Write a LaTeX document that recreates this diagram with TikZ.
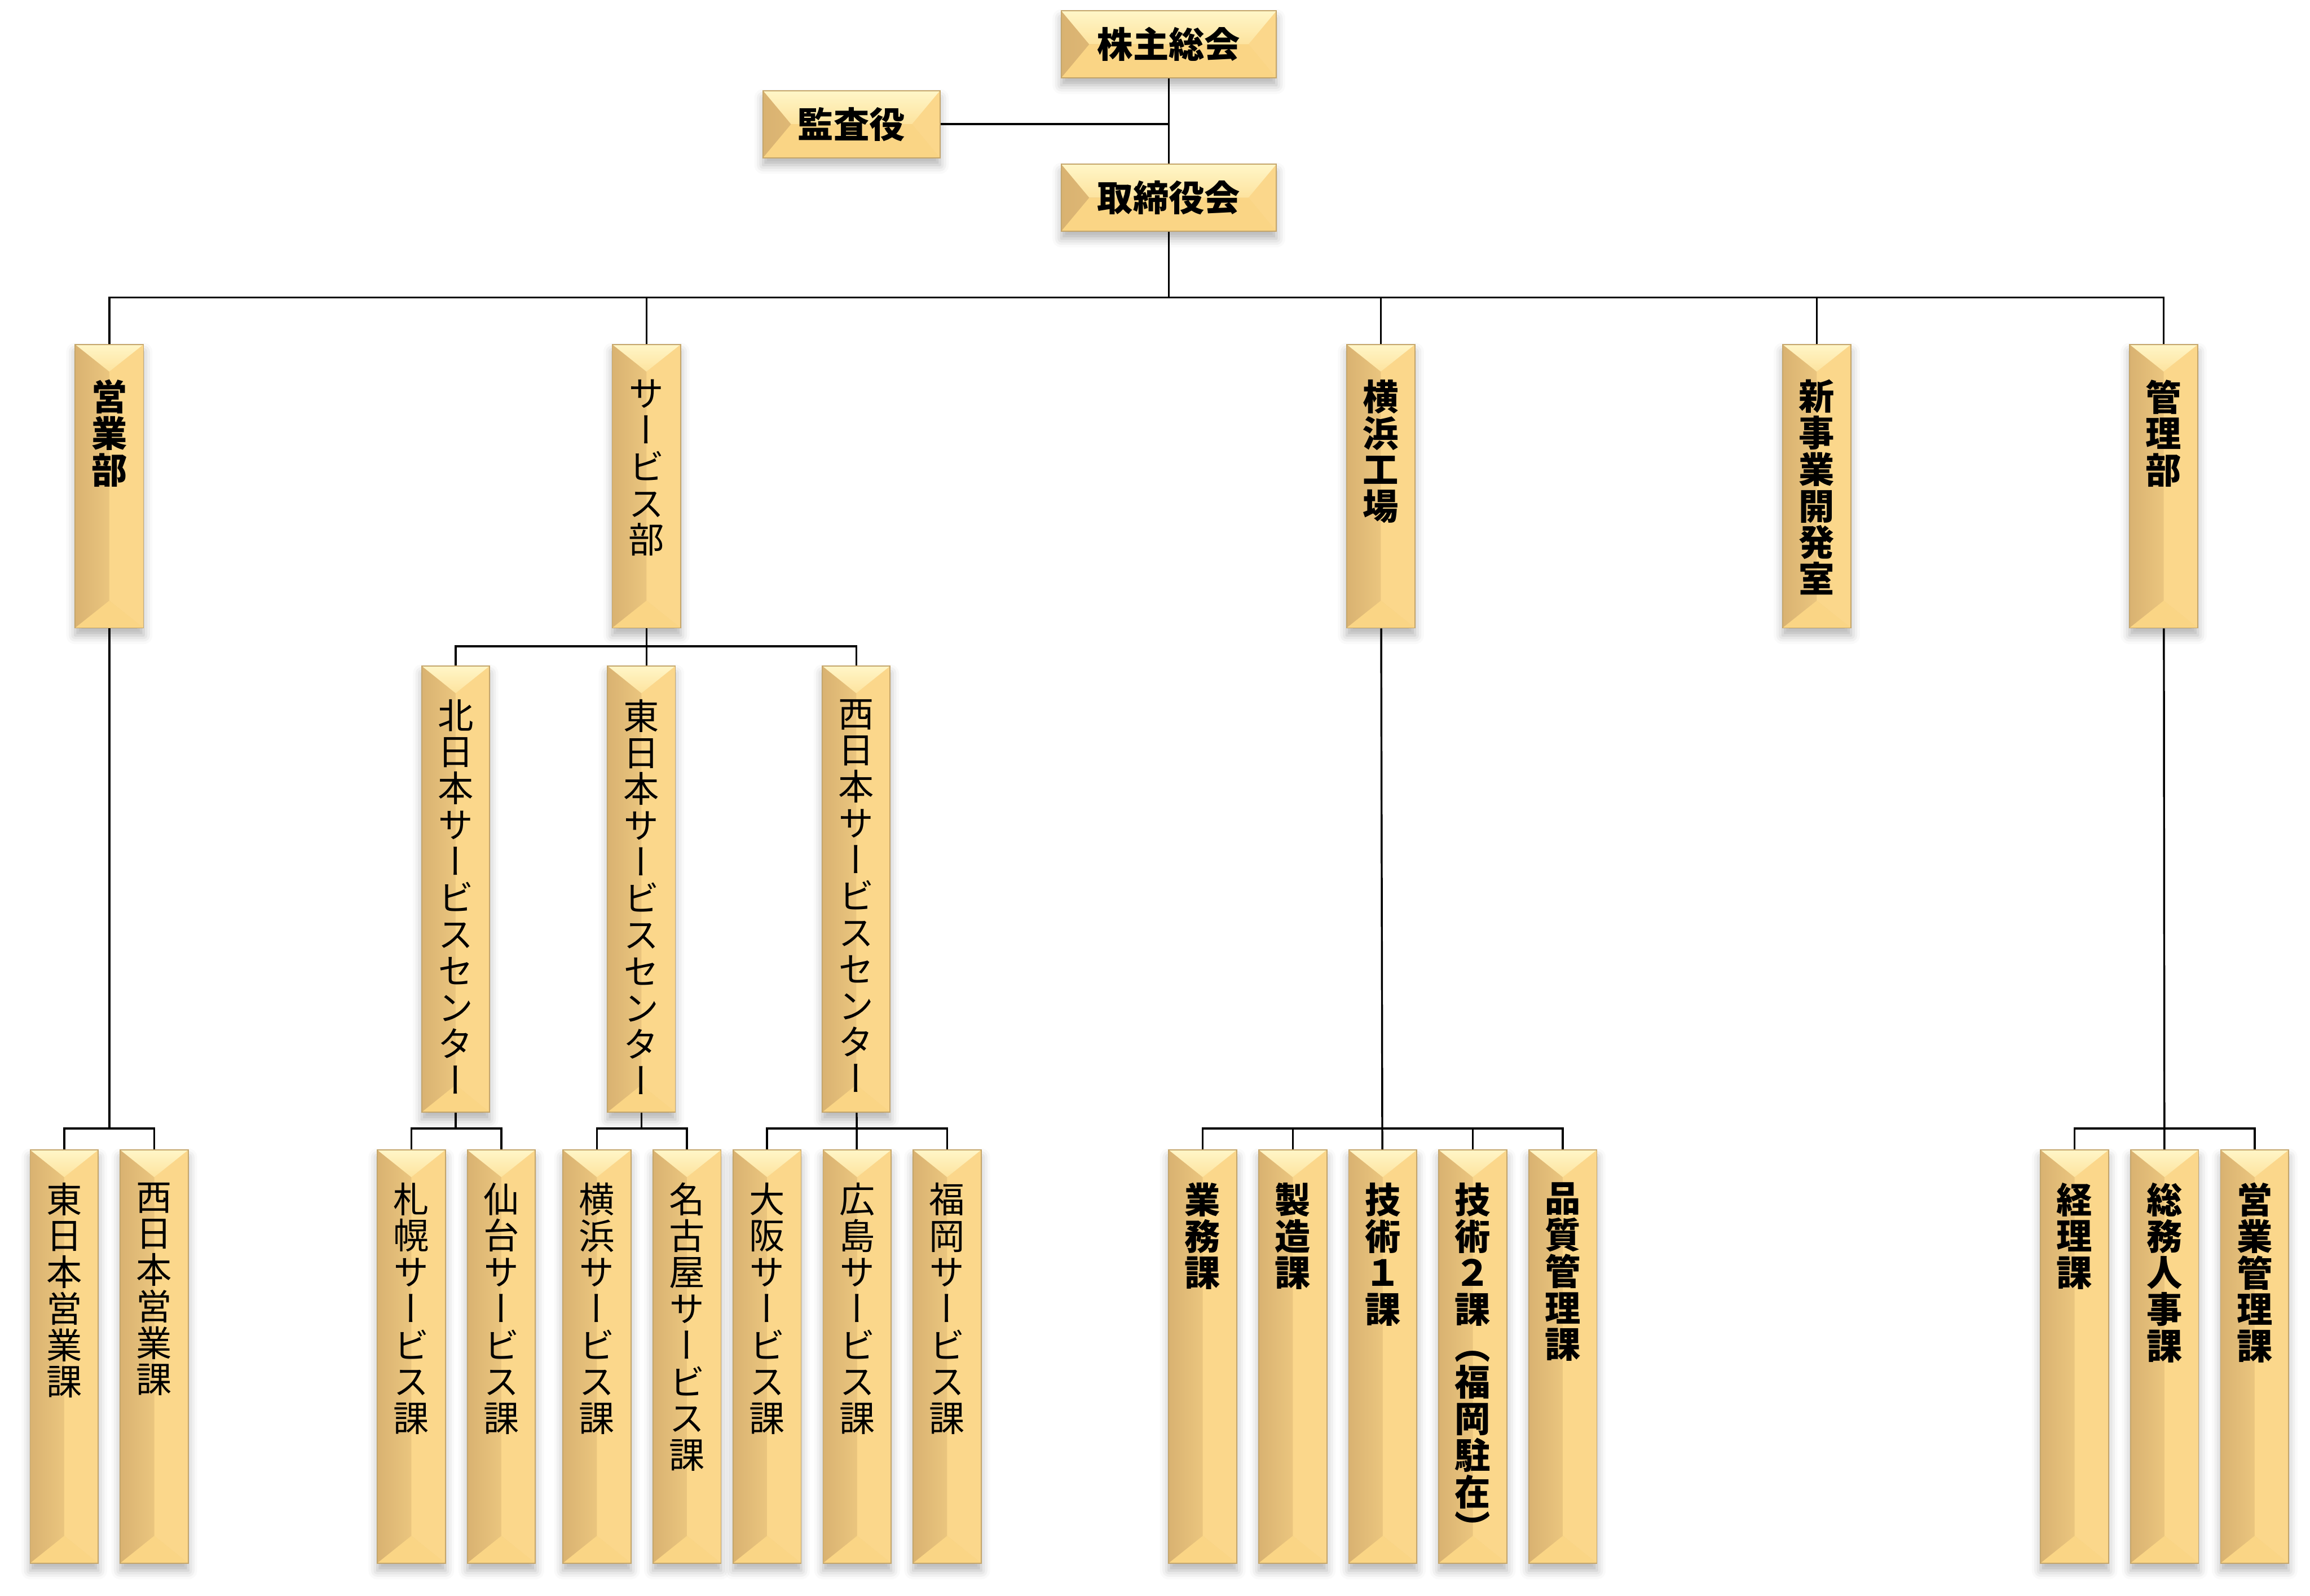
\documentclass[tikz,border=0pt]{standalone}
\usepackage{fontspec}
\newfontfamily\jp{Noto Sans CJK JP}[RawFeature={+vert}]
\usetikzlibrary{positioning, calc, shadows.blur}

\definecolor{goldL}{HTML}{D9B271}
\definecolor{goldR}{HTML}{FCD98C}
\definecolor{goldHalf}{HTML}{FBD78B}
\definecolor{bevTop}{HTML}{FFF6C8}
\definecolor{bevTopIn}{HTML}{FDE39E}
\definecolor{bevBot}{HTML}{FAD585}
\definecolor{goldEdge}{HTML}{C5A66B}

\newcommand{\jpsize}{\jp\fontsize{13.8pt}{14.1pt}\selectfont}
\newcommand{\tate}[2]{\parbox[c][#1][t]{1.2em}{\centering #2}}

\tikzset{bevel x/.store in=\bevx, bevel y/.store in=\bevy,
         bevel x=3.8mm, bevel y=3.8mm}

\begin{document}
\begin{tikzpicture}[
    x=0.2mm, y=-0.2mm,
    line width=0.75pt,
    orgbox/.style={draw=goldEdge, line width=0.4pt, left color=goldL,
                   right color=goldR, inner xsep=0pt, font=\jpsize,
                   blur shadow={shadow xshift=0mm, shadow yshift=-1mm,
                                shadow blur radius=1.2mm, shadow opacity=30},
                   path picture={
                     \coordinate (pnw) at (path picture bounding box.north west);
                     \coordinate (pne) at (path picture bounding box.north east);
                     \coordinate (psw) at (path picture bounding box.south west);
                     \coordinate (pse) at (path picture bounding box.south east);
                     \fill[goldHalf] (pne) -- ([xshift=-\bevx, yshift=-\bevy]pne)
                       -- ([xshift=-\bevx, yshift=\bevy]pse) -- (pse) -- cycle;
                     \shade[top color=bevTop, bottom color=bevTopIn] (pnw) -- (pne)
                       -- ([xshift=-\bevx, yshift=-\bevy]pne)
                       -- ([xshift=\bevx, yshift=-\bevy]pnw) -- cycle;
                     \fill[bevBot] (psw) -- (pse)
                       -- ([xshift=-\bevx, yshift=\bevy]pse)
                       -- ([xshift=\bevx, yshift=\bevy]psw) -- cycle;
                   }},
    flat/.style={orgbox, minimum width=29.2mm, minimum height=9.1mm,
                 inner ysep=0pt, bevel x=3.8mm, bevel y=4.55mm},
    dept/.style={orgbox, minimum width=9.3mm, inner ysep=4.8mm,
                 bevel x=4.65mm, bevel y=3.7mm},
    center/.style={orgbox, minimum width=9.2mm, inner ysep=4.54mm,
                   bevel x=4.6mm, bevel y=3.7mm},
    unit/.style={orgbox, minimum width=9.24mm, inner ysep=4.45mm,
                 bevel x=4.62mm, bevel y=3.7mm},
    bold/.style={font=\jpsize\bfseries}
  ]
  \useasboundingbox (0,0) rectangle (1568,1083);

  % top
  \node[flat, bold] (kabu) at (793.4,30.1) {株主総会};
  \node[flat, bold, minimum width=24mm] (kansa) at (578,84.3) {監査役};
  \node[flat, bold] (tori) at (793.4,134.2) {取締役会};

  % departments
  \node[dept, bold] (eigyo) at (74.2,330) {\tate{28.9mm}{営\\業\\部}};
  \node[dept] (svc) at (438.8,330) {\tate{28.9mm}{サ\\ー\\ビ\\ス\\部}};
  \node[dept, bold] (yfac) at (937.3,330) {\tate{28.9mm}{横\\浜\\工\\場}};
  \node[dept, bold] (newbiz) at (1233.2,330) {\tate{28.9mm}{新\\事\\業\\開\\発\\室}};
  \node[dept, bold] (kanri) at (1468.7,330) {\tate{28.9mm}{管\\理\\部}};

  % service centers
  \node[center] (north3) at (309.3,603.5)
    {\tate{51.5mm}{北\\日\\本\\サ\\ー\\ビ\\ス\\セ\\ン\\タ\\ー}};
  \node[center] (east3) at (435.4,603.5)
    {\tate{51.5mm}{東\\日\\本\\サ\\ー\\ビ\\ス\\セ\\ン\\タ\\ー}};
  \node[center] (west3) at (581.2,603.5)
    {\tate{51.5mm}{西\\日\\本\\サ\\ー\\ビ\\ス\\セ\\ン\\タ\\ー}};

  % sections
  \node[unit] (e1) at (43.6,920.8) {\tate{47.2mm}{東\\日\\本\\営\\業\\課}};
  \node[unit, right=2.84mm of e1] (e2) {\tate{47.2mm}{西\\日\\本\\営\\業\\課}};

  \node[unit] (n1) at (279.2,920.8) {\tate{47.2mm}{札\\幌\\サ\\ー\\ビ\\ス\\課}};
  \node[unit, right=2.84mm of n1] (n2) {\tate{47.2mm}{仙\\台\\サ\\ー\\ビ\\ス\\課}};

  \node[unit] (h1) at (405.2,920.8) {\tate{47.2mm}{横\\浜\\サ\\ー\\ビ\\ス\\課}};
  \node[unit, right=2.84mm of h1] (h2) {\tate{47.2mm}{名\\古\\屋\\サ\\ー\\ビ\\ス\\課}};

  \node[unit] (w1) at (520.7,920.8) {\tate{47.2mm}{大\\阪\\サ\\ー\\ビ\\ス\\課}};
  \node[unit, right=2.84mm of w1] (w2) {\tate{47.2mm}{広\\島\\サ\\ー\\ビ\\ス\\課}};
  \node[unit, right=2.84mm of w2] (w3) {\tate{47.2mm}{福\\岡\\サ\\ー\\ビ\\ス\\課}};

  \node[unit, bold] (f1) at (816.4,920.8) {\tate{47.2mm}{業\\務\\課}};
  \node[unit, bold, right=2.84mm of f1] (f2) {\tate{47.2mm}{製\\造\\課}};
  \node[unit, bold, right=2.84mm of f2] (f3) {\tate{47.2mm}{技\\術\\１\\課}};
  \node[unit, bold, right=2.84mm of f3] (f4)
    {\tate{47.2mm}{技\\術\\２\\課\\（\\福\\岡\\駐\\在\\）}};
  \node[unit, bold, right=2.84mm of f4] (f5) {\tate{47.2mm}{品\\質\\管\\理\\課}};

  \node[unit, bold] (k1) at (1408.2,920.8) {\tate{47.2mm}{経\\理\\課}};
  \node[unit, bold, right=2.84mm of k1] (k2) {\tate{47.2mm}{総\\務\\人\\事\\課}};
  \node[unit, bold, right=2.84mm of k2] (k3) {\tate{47.2mm}{営\\業\\管\\理\\課}};

  % connectors
  \draw (kabu) -- (tori);
  \draw (kansa) -- (kansa -| kabu);
  \coordinate (bus1) at (793.4,202);
  \draw (tori) -- (bus1);
  \draw (eigyo.north) |- (bus1) -| (kanri.north);
  \draw (svc.north) -- (svc.north |- bus1);
  \draw (yfac.north) -- (yfac.north |- bus1);
  \draw (newbiz.north) -- (newbiz.north |- bus1);

  \coordinate (bus2) at (438.8,438.7);
  \draw (svc) -- (svc.south |- east3.north);
  \draw (north3.north) |- (bus2) -| (west3.north);

  \coordinate (bus3) at (74.2,766);
  \draw (eigyo) -- (bus3);
  \draw (e1.north) |- (bus3) -| (e2.north);

  \coordinate (bus4) at (309.3,766);
  \draw (north3) -- (bus4);
  \draw (n1.north) |- (bus4) -| (n2.north);

  \coordinate (bus5) at (435.4,766);
  \draw (east3) -- (bus5);
  \draw (h1.north) |- (bus5) -| (h2.north);

  \coordinate (bus6) at (581.2,766);
  \draw (west3) -- (w2);
  \draw (w1.north) |- (bus6) -| (w3.north);

  \coordinate (bus7) at (937.3,766);
  \draw (yfac) -- (f3);
  \draw (f1.north) |- (bus7) -| (f5.north);
  \draw (f2.north) -- (f2.north |- bus7);
  \draw (f4.north) -- (f4.north |- bus7);

  \coordinate (bus8) at (1468.7,766);
  \draw (kanri) -- (k2);
  \draw (k1.north) |- (bus8) -| (k3.north);
\end{tikzpicture}
\end{document}
